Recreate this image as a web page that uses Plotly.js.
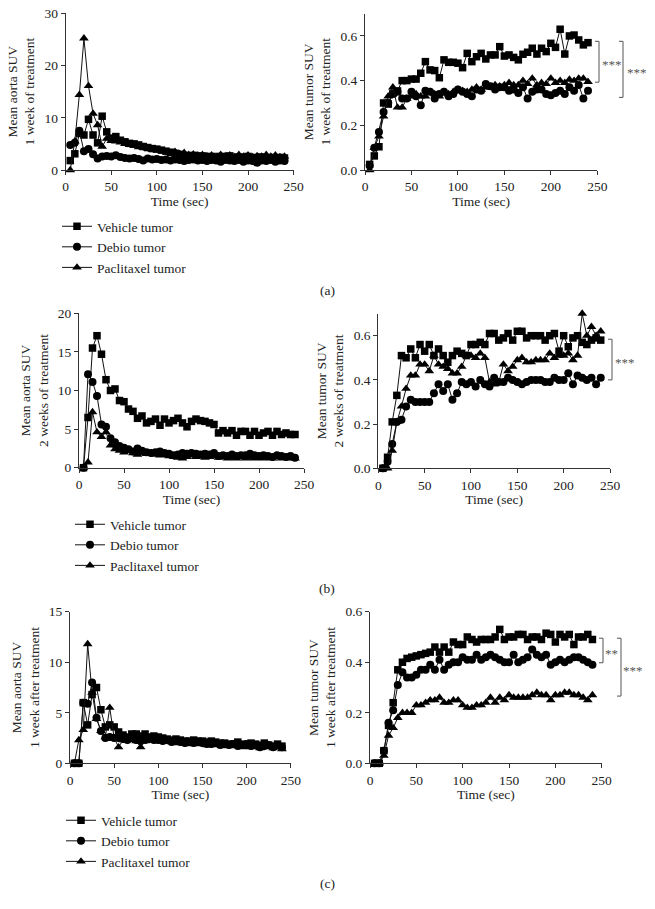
<!DOCTYPE html>
<html><head><meta charset="utf-8">
<script src="https://cdn.plot.ly/plotly-3.0.1.min.js"></script>
<style>html,body{margin:0;padding:0;background:#fff}</style>
</head><body>
<div id="chart" style="width:655px;height:909px"></div>
<script>
const timeSec = [5,10,15,20,25,30,35,40,45,50,55,60,65,70,75,80,85,90,95,100,105,110,115,120,125,130,135,140,145,150,155,160,165,170,175,180,185,190,195,200,205,210,215,220,225,230,235,240];
const seriesNames = ["Vehicle tumor","Debio tumor","Paclitaxel tumor"];
const xTicks = [0,50,100,150,200,250];

// (a) 1 week of treatment
const aAortaVehicle = [1.8,3.1,7.0,6.7,9.7,6.7,5.2,10.3,7.3,6.1,6.4,5.7,5.4,5.1,5.0,4.8,4.5,4.3,4.1,4.0,3.8,3.6,3.4,3.2,3.0,2.8,2.7,2.8,2.6,2.7,2.5,2.6,2.4,2.6,2.5,2.7,2.4,2.5,2.3,2.6,2.4,2.2,2.5,2.3,2.4,2.2,2.4,2.3];
const aAortaDebio = [4.8,5.2,7.5,3.6,4.0,3.0,2.2,2.6,2.7,2.6,2.8,2.5,2.3,2.2,2.3,2.1,1.8,2.2,2.0,2.1,1.9,2.0,1.8,2.0,1.9,1.7,1.9,2.0,1.8,1.9,1.7,1.9,1.8,1.6,1.9,1.8,1.7,1.9,1.6,1.8,1.7,1.4,1.8,1.7,1.9,1.6,1.8,1.7];
const aAortaPaclitaxel = [0,5.5,14.4,25.2,16.1,10.8,8.6,4.5,6.0,5.6,5.5,5.3,5.0,4.8,4.6,4.4,4.3,4.1,3.9,3.8,3.7,3.5,3.3,3.5,3.1,3.3,2.9,3.0,2.8,2.9,2.7,2.8,2.6,2.9,2.7,2.8,2.5,2.9,2.6,2.8,2.5,2.7,2.6,2.9,2.6,2.8,2.5,2.6];
const aTumorVehicle = [0.025,0.063,0.104,0.30,0.295,0.343,0.354,0.40,0.40,0.407,0.407,0.433,0.485,0.448,0.445,0.413,0.493,0.482,0.482,0.478,0.458,0.522,0.485,0.507,0.522,0.497,0.515,0.515,0.552,0.51,0.515,0.504,0.493,0.518,0.527,0.545,0.519,0.545,0.53,0.567,0.549,0.63,0.519,0.60,0.604,0.582,0.56,0.57];
const aTumorDebio = [0.02,0.10,0.17,0.26,0.30,0.34,0.35,0.32,0.32,0.35,0.33,0.29,0.355,0.35,0.32,0.34,0.35,0.33,0.34,0.36,0.35,0.34,0.33,0.36,0.355,0.385,0.375,0.36,0.37,0.37,0.355,0.36,0.345,0.37,0.32,0.35,0.36,0.36,0.34,0.335,0.345,0.355,0.34,0.37,0.355,0.38,0.32,0.355];
const aTumorPaclitaxel = [0.0,0.10,0.15,0.24,0.33,0.37,0.28,0.28,0.32,0.33,0.34,0.33,0.33,0.35,0.34,0.33,0.35,0.34,0.35,0.36,0.355,0.35,0.36,0.37,0.36,0.37,0.37,0.38,0.375,0.38,0.39,0.38,0.38,0.40,0.385,0.41,0.38,0.39,0.385,0.41,0.39,0.40,0.39,0.405,0.40,0.41,0.41,0.395];

// (b) 2 weeks of treatment
const bAortaVehicle = [0,6.5,15.5,17.1,14.7,11.4,10.0,10.2,8.7,8.55,7.6,7.3,6.4,6.7,5.8,6.0,6.3,5.5,6.3,5.8,6.1,6.4,5.8,5.3,6.0,6.3,6.1,6.0,5.8,5.6,4.5,4.8,4.5,4.8,4.2,4.7,4.7,4.2,4.7,4.2,4.5,4.7,4.2,4.7,4.3,4.5,4.3,4.3];
const bAortaDebio = [0,12.1,11.1,9.3,5.6,5.3,3.8,3.3,2.8,2.6,2.4,2.1,2.5,2.2,2.0,1.9,2.0,2.1,1.9,1.8,1.6,1.7,1.9,1.8,1.9,1.8,1.7,1.8,1.7,1.9,1.5,1.6,1.5,1.7,1.5,1.6,1.6,1.8,1.6,1.5,1.6,1.5,1.4,1.6,1.5,1.4,1.5,1.3];
const bAortaPaclitaxel = [0,0.7,7.2,4.6,4.0,4.6,2.9,2.4,2.2,2.0,2.2,1.9,1.7,1.9,1.8,1.9,1.7,1.6,1.7,1.5,1.4,1.3,1.2,1.4,1.6,1.4,1.5,1.3,1.4,1.5,1.3,1.4,1.2,1.3,1.2,1.4,1.2,1.3,1.2,1.3,1.2,1.3,1.2,1.4,1.2,1.3,1.2,1.2];
const bTumorVehicle = [0,0.05,0.21,0.33,0.51,0.50,0.54,0.50,0.56,0.53,0.56,0.51,0.54,0.51,0.48,0.51,0.53,0.52,0.51,0.56,0.56,0.57,0.56,0.61,0.61,0.58,0.59,0.61,0.58,0.62,0.62,0.59,0.60,0.60,0.60,0.58,0.60,0.61,0.53,0.60,0.55,0.59,0.60,0.57,0.56,0.58,0.59,0.58];
const bTumorDebio = [0,0.03,0.11,0.21,0.22,0.28,0.31,0.30,0.30,0.30,0.30,0.34,0.38,0.35,0.38,0.31,0.34,0.39,0.38,0.39,0.37,0.40,0.38,0.37,0.41,0.39,0.39,0.41,0.40,0.39,0.38,0.39,0.40,0.40,0.40,0.39,0.39,0.41,0.40,0.40,0.43,0.38,0.42,0.41,0.40,0.41,0.38,0.41];
const bTumorPaclitaxel = [0,0.0,0.08,0.21,0.28,0.36,0.42,0.42,0.47,0.47,0.44,0.51,0.47,0.46,0.45,0.43,0.43,0.46,0.51,0.51,0.50,0.52,0.50,0.39,0.38,0.39,0.47,0.44,0.46,0.49,0.50,0.48,0.48,0.49,0.49,0.49,0.52,0.50,0.51,0.51,0.52,0.49,0.51,0.70,0.60,0.64,0.60,0.62];

// (c) 1 week after treatment
const cAortaVehicle = [0,0,6.0,3.8,6.8,7.5,5.3,3.6,3.8,3.6,3.1,2.8,2.6,2.9,2.9,2.7,2.9,2.6,2.7,2.6,2.5,2.4,2.3,2.4,2.3,2.2,2.2,2.3,2.2,2.2,2.1,2.2,2.1,2.0,2.0,1.9,1.9,2.1,1.9,1.8,2.0,1.9,1.8,2.0,1.8,1.7,1.9,1.7];
const cAortaDebio = [0,0,6.0,5.9,8.0,4.5,3.2,2.5,2.6,2.5,2.5,2.4,2.3,2.5,2.3,2.2,2.3,2.4,2.3,2.3,2.2,2.3,2.1,2.2,2.1,2.0,2.1,2.0,2.1,2.0,1.9,1.9,2.0,1.8,1.9,1.8,1.9,1.7,1.8,1.9,1.7,1.8,1.6,1.7,1.8,1.6,1.8,1.6];
const cAortaPaclitaxel = [0,2.3,3.3,11.8,7.0,4.4,3.2,2.6,5.5,2.5,1.6,2.3,2.4,2.3,2.2,1.6,2.2,2.3,2.4,2.2,2.3,2.2,2.1,2.0,2.1,2.0,1.9,2.0,1.9,2.0,1.8,1.9,1.8,1.9,1.7,1.8,1.7,1.9,1.6,1.7,1.6,1.7,1.5,1.6,1.7,1.5,1.6,1.4];
const cTumorVehicle = [0,0.0,0.05,0.15,0.24,0.37,0.40,0.415,0.42,0.425,0.43,0.435,0.44,0.46,0.44,0.46,0.44,0.48,0.47,0.47,0.50,0.49,0.48,0.49,0.49,0.49,0.50,0.53,0.49,0.50,0.50,0.51,0.51,0.49,0.50,0.50,0.49,0.515,0.51,0.48,0.51,0.50,0.51,0.47,0.50,0.50,0.51,0.49];
const cTumorDebio = [0,0,0.05,0.16,0.21,0.31,0.36,0.34,0.34,0.35,0.37,0.37,0.39,0.37,0.41,0.37,0.39,0.40,0.40,0.42,0.41,0.41,0.43,0.41,0.42,0.43,0.42,0.41,0.40,0.40,0.43,0.40,0.41,0.42,0.45,0.43,0.42,0.43,0.39,0.40,0.41,0.40,0.41,0.42,0.42,0.41,0.40,0.39];
const cTumorPaclitaxel = [0,0,0.03,0.11,0.14,0.18,0.20,0.20,0.20,0.23,0.23,0.24,0.25,0.25,0.26,0.24,0.24,0.25,0.25,0.23,0.22,0.22,0.23,0.23,0.24,0.26,0.24,0.26,0.25,0.27,0.26,0.26,0.26,0.26,0.27,0.28,0.27,0.27,0.25,0.27,0.27,0.28,0.28,0.27,0.27,0.26,0.25,0.27];

const yTitles = [
  "Mean aorta SUV<br>1 week of treatment", "Mean tumor SUV<br>1 week of treatment",
  "Mean aorta SUV<br>2 weeks of treatment", "Mean tumor SUV<br>2 weeks of treatment",
  "Mean aorta SUV<br>1 week after treatment", "Mean tumor SUV<br>1 week after treatment"
];
const panelLabels = ["(a)","(b)","(c)"];

// ---------- layout helpers ----------
const W = 655, H = 909;
const FONT = "'Liberation Serif', 'Times New Roman', Times, serif";
const INK = "#222";
const px = v => v / W;
const py = v => 1 - v / H;

const symbols = ["square","circle","triangle-up"];
const msize = [7.5,8,8.5];

const traces = [];
function addPanel(idx, ys, legendId) {
  const sfx = idx === 1 ? "" : String(idx);
  ys.forEach((y, k) => {
    traces.push({
      type: "scatter", mode: "lines+markers",
      x: timeSec, y: y, xaxis: "x" + sfx, yaxis: "y" + sfx,
      name: seriesNames[k],
      legend: legendId || "legend",
      showlegend: !!legendId,
      cliponaxis: false,
      line: {color: "#111", width: 1},
      marker: {symbol: symbols[k], size: msize[k], color: "#000", line: {width: 0}}
    });
  });
}
addPanel(1, [aAortaVehicle, aAortaDebio, aAortaPaclitaxel], "legend");
addPanel(2, [aTumorVehicle, aTumorDebio, aTumorPaclitaxel]);
addPanel(3, [bAortaVehicle, bAortaDebio, bAortaPaclitaxel], "legend2");
addPanel(4, [bTumorVehicle, bTumorDebio, bTumorPaclitaxel]);
addPanel(5, [cAortaVehicle, cAortaDebio, cAortaPaclitaxel], "legend3");
addPanel(6, [cTumorVehicle, cTumorDebio, cTumorPaclitaxel]);

// pixel boxes of each panel: [left, right, top, bottom]
const boxes = [
  [65.7, 293.6, 13.3, 170],
  [365, 597.3, 13.6, 170],
  [79, 304, 313.3, 467.7],
  [378.3, 610, 313.6, 468.3],
  [70, 290.8, 611.7, 763.3],
  [370, 601.7, 611.7, 763.3]
];
const yRanges = [[0,30],[0,0.7],[0,20],[0,0.7],[0,15],[0,0.6]];
const yDticks = [10,0.2,5,0.2,5,0.2];

const layout = {
  width: W, height: H,
  margin: {l:0, r:0, t:0, b:0},
  paper_bgcolor: "#fff", plot_bgcolor: "#fff",
  font: {family: FONT, size: 13, color: INK},
  shapes: [], annotations: []
};
boxes.forEach((b, i) => {
  const sfx = i === 0 ? "" : String(i + 1);
  const axStyle = {
    showline: true, linecolor: "#333", linewidth: 1,
    ticks: "outside", ticklen: 4, tickwidth: 1, tickcolor: "#333",
    showgrid: false, zeroline: false,
    tickfont: {family: FONT, size: 13.5, color: INK}
  };
  layout["xaxis" + sfx] = Object.assign({}, axStyle, {
    domain: [px(b[0]), px(b[1])], anchor: "y" + sfx,
    range: [0, 250], tickvals: xTicks,
    title: {text: "Time (sec)", font: {family: FONT, size: 13.5, color: INK}, standoff: 2}
  });
  layout["yaxis" + sfx] = Object.assign({}, axStyle, {
    domain: [py(b[3]), py(b[2])], anchor: "x" + sfx,
    range: yRanges[i], dtick: yDticks[i], tick0: 0,
    tickformat: yDticks[i] < 1 ? ".1f" : "d",
    title: {text: yTitles[i], font: {family: FONT, size: 13.5, color: INK}, standoff: 6}
  });
});

const legBase = {
  xanchor: "left", yanchor: "top", bgcolor: "rgba(0,0,0,0)",
  font: {family: FONT, size: 13.5, color: INK}, traceorder: "normal",
  itemwidth: 30, tracegroupgap: 0
};
layout.legend  = Object.assign({}, legBase, {x: px(57), y: py(211)});
layout.legend2 = Object.assign({}, legBase, {x: px(70), y: py(509)});
layout.legend3 = Object.assign({}, legBase, {x: px(61), y: py(805)});

// significance brackets: [yaxis, xPixel, yTop, yBottom, label, labelX]
const brackets = [
  ["y2", 599, 0.576, 0.393, "***", 612],
  ["y2", 623, 0.576, 0.325, "***", 637],
  ["y4", 612, 0.584, 0.40, "***", 625],
  ["y6", 603, 0.495, 0.398, "**", 611],
  ["y6", 621, 0.495, 0.266, "***", 633]
];
brackets.forEach(br => {
  const [yr, xp, y0, y1, lab, lx] = br;
  const ls = {color: "#555", width: 1};
  layout.shapes.push({type: "line", xref: "paper", yref: yr, x0: px(xp), x1: px(xp), y0: y0, y1: y1, line: ls});
  layout.shapes.push({type: "line", xref: "paper", yref: yr, x0: px(xp - 4), x1: px(xp), y0: y0, y1: y0, line: ls});
  layout.shapes.push({type: "line", xref: "paper", yref: yr, x0: px(xp - 4), x1: px(xp), y0: y1, y1: y1, line: ls});
  layout.annotations.push({
    xref: "paper", yref: yr, x: px(lx), y: (y0 + y1) / 2, yshift: -3,
    text: lab, showarrow: false, xanchor: "center", yanchor: "middle",
    font: {family: FONT, size: 13, color: "#555"}
  });
});

// panel letters
[290, 588, 883].forEach((yy, i) => {
  layout.annotations.push({
    xref: "paper", yref: "paper", x: px(327), y: py(yy),
    text: panelLabels[i], showarrow: false, xanchor: "center", yanchor: "middle",
    font: {family: FONT, size: 13.5, color: INK}
  });
});

Plotly.newPlot("chart", traces, layout, {displayModeBar: false, staticPlot: true});
</script>
</body></html>
